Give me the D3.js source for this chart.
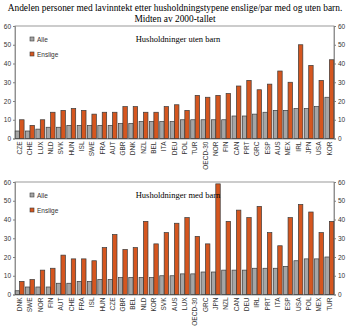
<!DOCTYPE html>
<html>
<head>
<meta charset="utf-8">
<script src="https://cdn.jsdelivr.net/npm/d3@7"></script>
<style>
  body { margin: 0; background: #fff; }
  svg { display: block; }
</style>
</head>
<body>
<div id="chart"></div>
<script>
// Husholdninger uten barn
const landUten = ['CZE', 'CHE', 'LUX', 'NLD', 'SVK', 'HUN', 'ISL', 'SWE', 'FRA', 'AUT', 'GBR', 'DNK', 'NZL', 'BEL', 'ITA', 'DEU',
  'POL', 'TUR', 'OECD-30', 'NOR', 'FIN', 'CAN', 'PRT', 'GRC', 'ESP', 'AUS', 'MEX', 'IRL', 'JPN', 'USA', 'KOR'];
const alleUten = [4, 4, 5, 6, 6, 7, 7, 7, 7, 7, 8, 8, 9, 9, 9, 9, 10, 10, 10, 10, 10, 12, 12, 13, 14, 15, 15, 16, 16, 17, 22];
const ensligeUten = [10, 7, 10, 14, 15, 16, 15, 13, 14, 14, 17, 17, 14, 14, 17, 18, 15, 23, 22, 23, 24, 28, 31, 26, 29, 36, 30, 50, 39, 31, 42];

// Husholdninger med barn
const landMed = ['DNK', 'SWE', 'NOR', 'FIN', 'AUT', 'CHE', 'FRA', 'ISL', 'HUN', 'CZE', 'GBR', 'BEL', 'NLD', 'KOR', 'SVK', 'AUS',
  'LUX', 'OECD-30', 'GRC', 'JPN', 'NZL', 'CAN', 'DEU', 'IRL', 'PRT', 'ITA', 'ESP', 'USA', 'POL', 'MEX', 'TUR'];
const alleMed = [2, 4, 4, 4, 6, 6, 7, 7, 8, 8, 9, 9, 9, 9, 10, 10, 11, 11, 12, 12, 13, 13, 13, 14, 14, 14, 15, 18, 19, 19, 20];
const ensligeMed = [7, 8, 13, 14, 21, 19, 19, 18, 25, 32, 24, 25, 39, 27, 33, 38, 41, 31, 27, 59, 39, 45, 41, 47, 33, 26, 41, 48, 44, 33, 39];

const yTicks = [0, 10, 20, 30, 40, 50, 60];
const serier = ['Alle', 'Enslige'];
const farger = ['#a5a5a5', '#d5561f'];

const width = 350;
const height = 326;

const svg = d3.select('#chart')
  .append('svg')
  .attr('width', width)
  .attr('height', height);

// Tittel
svg.append('text')
  .attr('x', width / 2)
  .attr('y', 11)
  .attr('text-anchor', 'middle')
  .style('font-family', '"Liberation Serif", "Times New Roman", serif')
  .style('font-size', '9.4px')
  .text('Andelen personer med lavinntekt etter husholdningstypene enslige/par med og uten barn.');

svg.append('text')
  .attr('x', width / 2)
  .attr('y', 22)
  .attr('text-anchor', 'middle')
  .style('font-family', '"Liberation Serif", "Times New Roman", serif')
  .style('font-size', '9.4px')
  .text('Midten av 2000-tallet');

function tegnPanel(top, land, alle, enslige, tittel) {
  const left = 15;
  const right = 334;
  const plotH = 112.5;

  const g = svg.append('g').attr('transform', `translate(0,${top})`);

  const x = d3.scaleBand()
    .domain(land)
    .range([left, right])
    .paddingInner(0.14)
    .paddingOuter(0.02);

  const xs = d3.scaleBand()
    .domain(serier)
    .range([0, x.bandwidth()]);

  const y = d3.scaleLinear()
    .domain([0, 60])
    .range([plotH, 0]);

  // Ramme
  g.append('rect')
    .attr('x', left)
    .attr('y', 0)
    .attr('width', right - left)
    .attr('height', plotH)
    .attr('fill', 'none')
    .attr('stroke', '#808080')
    .attr('stroke-width', 0.8);

  // Y-akser
  const yLeft = g.append('g')
    .attr('transform', `translate(${left},0)`)
    .call(d3.axisLeft(y).tickValues(yTicks).tickSize(2).tickPadding(2));
  const yRight = g.append('g')
    .attr('transform', `translate(${right},0)`)
    .call(d3.axisRight(y).tickValues(yTicks).tickSize(2).tickPadding(2));

  [yLeft, yRight].forEach((ax) => {
    ax.select('.domain').attr('stroke', '#808080').attr('stroke-width', 0.8);
    ax.selectAll('.tick line').attr('stroke', '#808080');
    ax.selectAll('.tick text')
      .style('font-family', '"Liberation Sans", Arial, sans-serif')
      .style('font-size', '6.5px')
      .attr('fill', '#333');
  });

  // X-akse
  const xAx = g.append('g')
    .attr('transform', `translate(0,${plotH})`)
    .call(d3.axisBottom(x).tickSize(0).tickPadding(0));
  xAx.select('.domain').attr('stroke', '#808080').attr('stroke-width', 0.8);
  xAx.selectAll('.tick text')
    .attr('transform', 'rotate(-90)')
    .attr('text-anchor', 'end')
    .attr('x', -3)
    .attr('y', 0)
    .attr('dy', '0.35em')
    .style('font-family', '"Liberation Sans", Arial, sans-serif')
    .style('font-size', '6.5px')
    .attr('fill', '#333');

  // Søyler
  const rows = land.map((l, i) => ({ land: l, verdier: [alle[i], enslige[i]] }));
  const grupper = g.selectAll('.gruppe')
    .data(rows)
    .enter()
    .append('g')
    .attr('transform', (d) => `translate(${x(d.land)},0)`);

  grupper.selectAll('rect')
    .data((d) => d.verdier.map((v, j) => ({ serie: serier[j], v: v, j: j })))
    .enter()
    .append('rect')
    .attr('x', (d) => xs(d.serie))
    .attr('y', (d) => y(d.v))
    .attr('width', xs.bandwidth())
    .attr('height', (d) => plotH - y(d.v))
    .attr('fill', (d) => farger[d.j])
    .attr('stroke', '#3a3a3a')
    .attr('stroke-width', 0.7);

  // Forklaring
  serier.forEach((s, i) => {
    const ly = 14 + i * 15;
    g.append('rect')
      .attr('x', 30)
      .attr('y', ly - 3)
      .attr('width', 4)
      .attr('height', 4)
      .attr('fill', farger[i])
      .attr('stroke', '#3a3a3a')
      .attr('stroke-width', 0.6);
    g.append('text')
      .attr('x', 37)
      .attr('y', ly + 1.5)
      .style('font-family', '"Liberation Sans", Arial, sans-serif')
      .style('font-size', '6.5px')
      .attr('fill', '#333')
      .text(s);
  });

  // Paneltittel
  g.append('text')
    .attr('x', 178)
    .attr('y', 16)
    .attr('text-anchor', 'middle')
    .style('font-family', '"Liberation Serif", "Times New Roman", serif')
    .style('font-size', '8.5px')
    .text(tittel);
}

tegnPanel(26, landUten, alleUten, ensligeUten, 'Husholdninger uten barn');
tegnPanel(182, landMed, alleMed, ensligeMed, 'Husholdninger med barn');
</script>
</body>
</html>
